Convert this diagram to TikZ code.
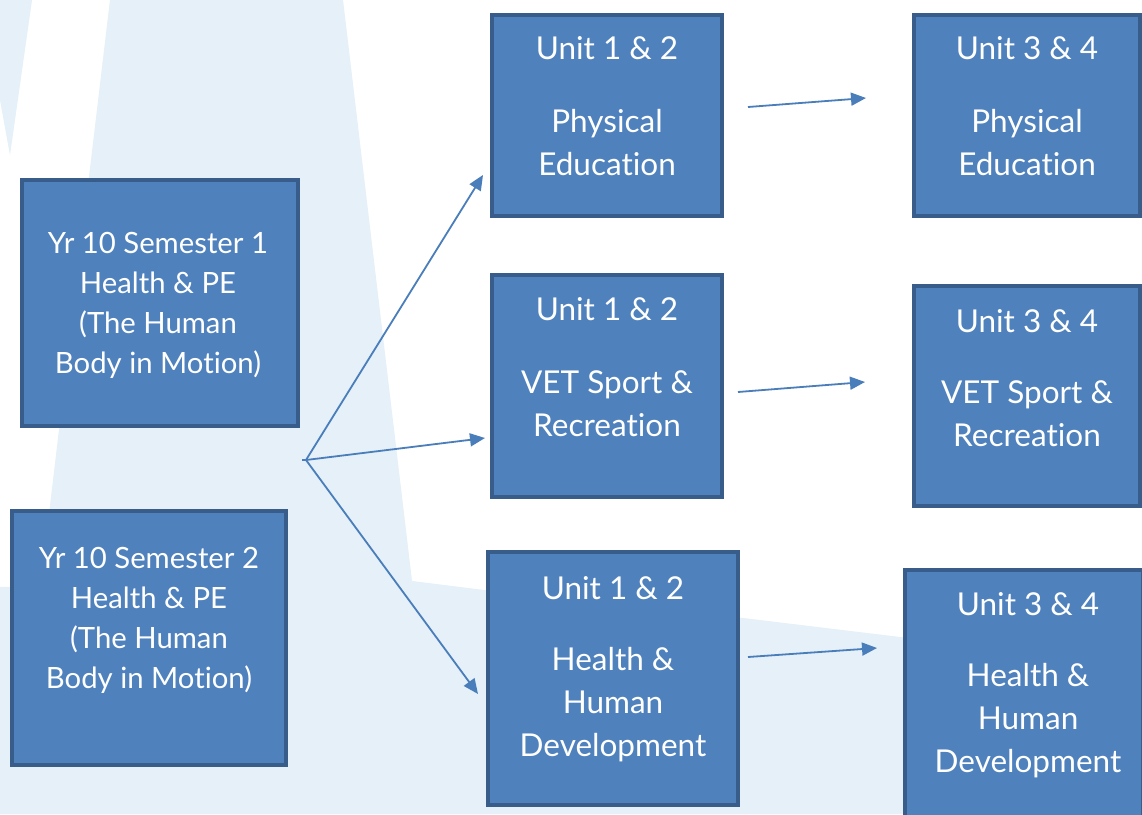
\documentclass[tikz,border=0pt]{standalone}
\usepackage{fontspec}
\setmainfont{Lato}[Ligatures={NoCommon,NoContextual}]
\usetikzlibrary{arrows.meta}
\definecolor{bgblue}{HTML}{E5F0F8}
\definecolor{boxfill}{HTML}{4F81BD}
\definecolor{boxline}{HTML}{385D8A}
\definecolor{arrowblue}{HTML}{4A7EBB}
\tikzset{
  box/.style={draw=boxline, fill=boxfill, line width=4pt, rectangle, inner sep=0pt, outer sep=0pt},
  unittxt/.style={text=white, align=center, anchor=north, inner sep=0pt, font=\fontsize{31.5}{43}\selectfont},
  yrtxt/.style={text=white, align=center, anchor=north, inner sep=0pt, font=\fontsize{29.3}{40}\selectfont},
  link/.style={draw=arrowblue, line width=1.8pt, -{Triangle[length=15pt,width=13pt]}}
}
\begin{document}
\begin{tikzpicture}[x=1pt,y=-1pt]
\clip (0,0) rectangle (1142,814);
\fill[white] (0,0) rectangle (1142,814);
% background watermark
\fill[bgblue] (0,0) -- (32,0) -- (10,155) -- (0,100) -- cycle;
\fill[bgblue] (110,0) -- (343,0) -- (412,581) -- (40,590) -- cycle;
\fill[bgblue] (0,587) -- (412,581) -- (500,592) -- (743,618) -- (900,637) -- (1142,664) -- (1142,814) -- (0,814) -- cycle;
% boxes
\node[box, minimum width=276pt, minimum height=246pt] (s1) at (160,303) {};
\node[box, minimum width=274pt, minimum height=254pt] (s2) at (149,638) {};
\node[box, minimum width=230pt, minimum height=201pt] (p12) at (607,115.5) {};
\node[box, minimum width=230pt, minimum height=222pt] (v12) at (607,386) {};
\node[box, minimum width=250pt, minimum height=253pt] (h12) at (613,678.5) {};
\node[box, minimum width=226pt, minimum height=201pt] (p34) at (1027,115.5) {};
\node[box, minimum width=226pt, minimum height=220pt] (v34) at (1027,396) {};
\node[box, minimum width=238pt, minimum height=258pt] (h34) at (1024,699) {};
% texts
\node[yrtxt] (s1t) at (158,232) {Yr 10 Semester 1\\Health \& PE\\(The Human\\Body in Motion)};
\node[yrtxt] (s2t) at (149,547) {Yr 10 Semester 2\\Health \& PE\\(The Human\\Body in Motion)};
\node[unittxt] (p12t) at (607,36) {Unit 1 \& 2\\[30pt]Physical\\Education};
\node[unittxt] (v12t) at (607,297) {Unit 1 \& 2\\[30pt]VET Sport \&\\Recreation};
\node[unittxt] (h12t) at (613,576) {Unit 1 \& 2\\[28pt]Health \&\\Human\\Development};
\node[unittxt] (p34t) at (1027,36) {Unit 3 \& 4\\[30pt]Physical\\Education};
\node[unittxt] (v34t) at (1027,309) {Unit 3 \& 4\\[28pt]VET Sport \&\\Recreation};
\node[unittxt] (h34t) at (1028,592) {Unit 3 \& 4\\[28pt]Health \&\\Human\\Development};
% connector end points
\coordinate (fork) at (306,460);
\coordinate (toP12) at (483,175);
\coordinate (toV12) at (485,438);
\coordinate (toH12) at (478,694);
\coordinate (fromP12) at (748,107);
\coordinate (toP34) at (866,98);
\coordinate (fromV12) at (738,392);
\coordinate (toV34) at (865,382);
\coordinate (fromH12) at (748,657);
\coordinate (toH34) at (877,648);
\draw[draw=arrowblue, line width=1.8pt] (fork) -- ++(-4,0);
\draw[link] (fork) -- (toP12);
\draw[link] (fork) -- (toV12);
\draw[link] (fork) -- (toH12);
\draw[link] (fromP12) -- (toP34);
\draw[link] (fromV12) -- (toV34);
\draw[link] (fromH12) -- (toH34);
\end{tikzpicture}
\end{document}
